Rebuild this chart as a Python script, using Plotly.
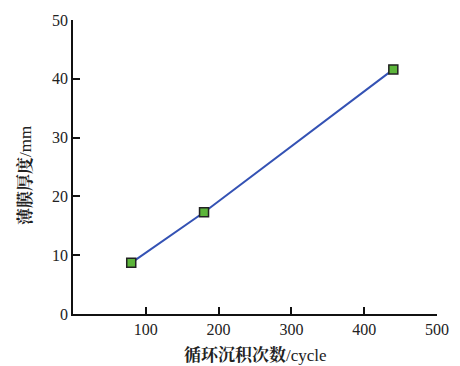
import plotly.graph_objects as go

# Film thickness vs. number of deposition cycles
cycles = [80, 180, 440]
thickness = [8.7, 17.3, 41.6]

x_ticks = [100, 200, 300, 400, 500]
y_ticks = [0, 10, 20, 30, 40, 50]

x_title = "<b>循环沉积次数</b>/cycle"
y_title = "<b>薄膜厚度</b>/mm"

font_family = "'Times New Roman', 'Liberation Serif', 'Noto Serif CJK SC', 'Noto Sans CJK SC', serif"
title_font = dict(family=font_family, size=17, color="#222222")

fig = go.Figure()
fig.add_trace(go.Scatter(
    x=cycles,
    y=thickness,
    mode="lines+markers",
    line=dict(color="#3452b4", width=2),
    marker=dict(symbol="square", size=9, color="#5cb53a",
                line=dict(color="#222222", width=1.5)),
    showlegend=False,
))

axis_common = dict(
    showgrid=False,
    zeroline=False,
    showline=True,
    linecolor="#111111",
    linewidth=1.5,
    ticks="inside",
    ticklen=7,
    tickwidth=1.5,
    tickcolor="#111111",
    tickfont=dict(family=font_family, size=16, color="#222222"),
    automargin=False,
)

fig.update_layout(
    width=460,
    height=366,
    margin=dict(l=73, r=23, t=20, b=52),
    paper_bgcolor="white",
    plot_bgcolor="white",
    xaxis=dict(range=[0, 500], tickvals=x_ticks,
               ticktext=[str(v) for v in x_ticks], **axis_common),
    yaxis=dict(range=[0, 50], tickvals=y_ticks,
               ticktext=[str(v) for v in y_ticks], **axis_common),
)

# Axis titles placed as paper-anchored annotations
fig.add_annotation(text=x_title, xref="paper", yref="paper", x=0.5, y=-0.139,
                   xanchor="center", yanchor="middle", showarrow=False,
                   font=title_font)
fig.add_annotation(text=y_title, xref="paper", yref="paper", x=-0.132, y=0.473,
                   xanchor="center", yanchor="middle", showarrow=False,
                   textangle=-90, font=title_font)

fig.write_html("out.html")
